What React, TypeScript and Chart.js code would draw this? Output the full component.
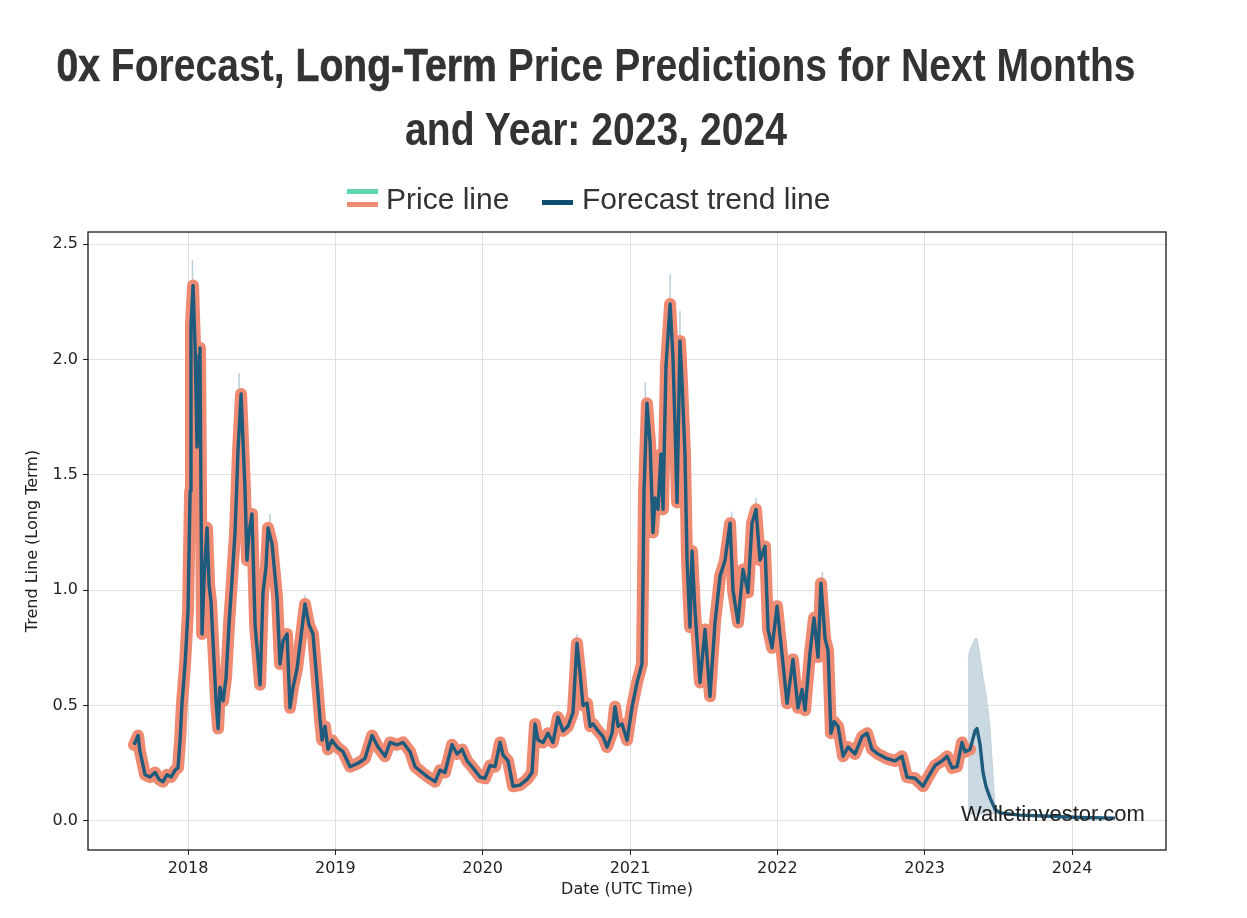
import React, { useEffect, useRef } from "react";
import { Chart, registerables } from "chart.js";

Chart.register(...registerables);

// ---- Axis ticks ----
const xTickYears = [2018, 2019, 2020, 2021, 2022, 2023, 2024];
const yTickValues = [0, 0.5, 1.0, 1.5, 2.0, 2.5];

// ---- Historical price (decimal year, value) ----
const priceDates = [
  2017.633, 2017.661, 2017.674, 2017.688, 2017.708, 2017.742, 2017.776, 2017.803, 2017.83, 2017.857,
  2017.885, 2017.912, 2017.932, 2017.946, 2017.959, 2017.98, 2018.0, 2018.014, 2018.02, 2018.034,
  2018.048, 2018.061, 2018.075, 2018.081, 2018.088, 2018.095, 2018.109, 2018.129, 2018.143, 2018.156,
  2018.176, 2018.19, 2018.204, 2018.217, 2018.238, 2018.258, 2018.278, 2018.299, 2018.319, 2018.339,
  2018.36, 2018.373, 2018.387, 2018.4, 2018.414, 2018.434, 2018.455, 2018.475, 2018.489, 2018.509,
  2018.529, 2018.543, 2018.57, 2018.604, 2018.624, 2018.645, 2018.672, 2018.692, 2018.713, 2018.74,
  2018.767, 2018.794, 2018.821, 2018.848, 2018.869, 2018.882, 2018.896, 2018.91, 2018.93, 2018.95,
  2018.977, 2019.011, 2019.052, 2019.1, 2019.154, 2019.201, 2019.249, 2019.29, 2019.337, 2019.371,
  2019.419, 2019.459, 2019.507, 2019.541, 2019.588, 2019.629, 2019.677, 2019.71, 2019.744, 2019.792,
  2019.826, 2019.86, 2019.894, 2019.934, 2019.982, 2020.016, 2020.05, 2020.084, 2020.118, 2020.138,
  2020.172, 2020.206, 2020.253, 2020.301, 2020.335, 2020.355, 2020.376, 2020.41, 2020.443, 2020.477,
  2020.511, 2020.545, 2020.579, 2020.613, 2020.64, 2020.661, 2020.681, 2020.708, 2020.729, 2020.749,
  2020.783, 2020.817, 2020.844, 2020.878, 2020.898, 2020.919, 2020.946, 2020.98, 2021.014, 2021.048,
  2021.081, 2021.088, 2021.095, 2021.115, 2021.136, 2021.156, 2021.17, 2021.19, 2021.21, 2021.224,
  2021.244, 2021.272, 2021.292, 2021.305, 2021.319, 2021.339, 2021.353, 2021.373, 2021.387, 2021.407,
  2021.421, 2021.441, 2021.475, 2021.509, 2021.543, 2021.577, 2021.611, 2021.645, 2021.679, 2021.699,
  2021.733, 2021.767, 2021.801, 2021.828, 2021.855, 2021.882, 2021.916, 2021.937, 2021.964, 2021.998,
  2022.032, 2022.066, 2022.106, 2022.14, 2022.168, 2022.188, 2022.222, 2022.249, 2022.276, 2022.296,
  2022.324, 2022.344, 2022.364, 2022.385, 2022.412, 2022.446, 2022.48, 2022.527, 2022.575, 2022.609,
  2022.643, 2022.683, 2022.744, 2022.799, 2022.846, 2022.88, 2022.934, 2022.989, 2023.023, 2023.07,
  2023.118, 2023.152, 2023.186, 2023.22, 2023.253, 2023.274, 2023.308,
];
const priceValues = [
  0.33, 0.37, 0.30, 0.26, 0.20, 0.19, 0.21, 0.18, 0.17, 0.20,
  0.19, 0.22, 0.23, 0.35, 0.51, 0.68, 0.91, 1.43, 2.15, 2.32,
  2.05, 1.62, 2.02, 2.05, 1.40, 0.81, 1.05, 1.27, 1.02, 0.95,
  0.70, 0.52, 0.40, 0.58, 0.52, 0.62, 0.85, 1.05, 1.25, 1.60,
  1.85, 1.65, 1.43, 1.13, 1.25, 1.33, 0.85, 0.70, 0.59, 0.99,
  1.10, 1.27, 1.20, 0.97, 0.68, 0.78, 0.81, 0.49, 0.58, 0.66,
  0.80, 0.94, 0.85, 0.81, 0.65, 0.55, 0.44, 0.35, 0.41, 0.31,
  0.35, 0.32, 0.30, 0.235, 0.25, 0.27, 0.37, 0.32, 0.28, 0.34,
  0.33, 0.34, 0.30, 0.235, 0.21, 0.19, 0.17, 0.22, 0.21, 0.33,
  0.29, 0.31, 0.26, 0.23, 0.19, 0.185, 0.24, 0.235, 0.34, 0.285,
  0.26, 0.15, 0.155, 0.18, 0.21, 0.42, 0.35, 0.34, 0.38, 0.34,
  0.45, 0.39, 0.41, 0.47, 0.77, 0.64, 0.50, 0.51, 0.41, 0.42,
  0.39, 0.365, 0.32, 0.38, 0.495, 0.41, 0.42, 0.35, 0.495, 0.60,
  0.68, 1.03, 1.43, 1.81, 1.64, 1.25, 1.40, 1.35, 1.59, 1.35,
  1.97, 2.24, 2.00, 1.72, 1.38, 2.08, 1.90, 1.59, 1.13, 0.84,
  1.17, 0.91, 0.60, 0.83, 0.54, 0.86, 1.06, 1.13, 1.29, 1.00,
  0.86, 1.09, 0.99, 1.29, 1.35, 1.13, 1.19, 0.83, 0.75, 0.93,
  0.72, 0.51, 0.70, 0.49, 0.57, 0.48, 0.73, 0.88, 0.71, 1.03,
  0.79, 0.74, 0.38, 0.43, 0.41, 0.28, 0.32, 0.29, 0.365, 0.38,
  0.31, 0.29, 0.27, 0.26, 0.28, 0.19, 0.185, 0.15, 0.19, 0.24,
  0.26, 0.28, 0.23, 0.235, 0.34, 0.30, 0.31,
];

// ---- Forecast continuation of the trend line ----
const forecastDates = [
  2023.342, 2023.355, 2023.376, 2023.396, 2023.416, 2023.444, 2023.478, 2023.511, 2023.647, 2023.851,
  2024.054, 2024.292,
];
const forecastValues = [
  0.39, 0.40, 0.33, 0.21, 0.15, 0.10, 0.05, 0.035, 0.025, 0.02,
  0.015, 0.012,
];

// ---- Forecast confidence band ----
const bandDates = [2023.294, 2023.308, 2023.342, 2023.355, 2023.376, 2023.396, 2023.416, 2023.43, 2023.444, 2023.478];
const bandUpper = [0.70, 0.74, 0.79, 0.79, 0.71, 0.62, 0.55, 0.48, 0.40, 0.05];
const bandLower = [0.03, 0.03, 0.03, 0.03, 0.03, 0.03, 0.03, 0.03, 0.03, 0.03];

// ---- High wicks (light blue spikes) ----
const wickDates = [2018.03, 2018.346, 2018.556, 2018.794, 2020.64, 2021.104, 2021.272, 2021.339, 2021.69, 2021.855, 2022.306];
const wickLows = [2.30, 1.84, 1.26, 0.93, 0.76, 1.80, 2.22, 2.06, 1.28, 1.33, 1.02];
const wickHighs = [2.43, 1.94, 1.33, 0.98, 0.81, 1.90, 2.37, 2.21, 1.34, 1.40, 1.08];

const X_MIN = 2017.321;
const X_MAX = 2024.638;
const Y_MIN = -0.126;
const Y_MAX = 2.552;

const framePlugin = {
  id: "frame",
  afterDatasetsDraw(chart: any) {
    const { ctx, chartArea } = chart;
    ctx.save();
    ctx.strokeStyle = "#1a1a1a";
    ctx.lineWidth = 1.3;
    ctx.strokeRect(chartArea.left, chartArea.top, chartArea.right - chartArea.left, chartArea.bottom - chartArea.top);
    ctx.restore();
  },
};

export default function App() {
  const canvasRef = useRef<HTMLCanvasElement | null>(null);

  useEffect(() => {
    if (!canvasRef.current) return;
    const pricePts = priceDates.map((d, i) => ({ x: d, y: priceValues[i] }));
    const trendPts = pricePts.concat(forecastDates.map((d, i) => ({ x: d, y: forecastValues[i] })));
    const upperPts = bandDates.map((d, i) => ({ x: d, y: bandUpper[i] }));
    const lowerPts = bandDates.map((d, i) => ({ x: d, y: bandLower[i] }));
    const wickPts: any[] = [];
    wickDates.forEach((d, i) => {
      wickPts.push({ x: d, y: wickLows[i] });
      wickPts.push({ x: d, y: wickHighs[i] });
      wickPts.push({ x: d, y: null });
    });

    const tickFont = { family: "'DejaVu Sans', sans-serif", size: 16 };
    const chart = new Chart(canvasRef.current, {
      type: "line",
      data: {
        datasets: [
          {
            label: "Forecast trend line",
            data: trendPts,
            borderColor: "#1f5b7c",
            borderWidth: 3.4,
            pointRadius: 0,
            tension: 0,
            fill: false,
            borderJoinStyle: "round",
          },
          {
            label: "Price line",
            data: pricePts,
            borderColor: "#ef8b73",
            borderWidth: 12,
            pointRadius: 0,
            tension: 0,
            fill: false,
            borderJoinStyle: "round",
            borderCapStyle: "round",
          },
          {
            label: "wicks",
            data: wickPts,
            borderColor: "#b9cdd9",
            borderWidth: 1.5,
            pointRadius: 0,
            spanGaps: false,
            fill: false,
          },
          {
            label: "upper",
            data: upperPts,
            borderColor: "#bfd0db",
            backgroundColor: "#cbd9e2",
            borderWidth: 1,
            pointRadius: 0,
            tension: 0,
            fill: "+1",
          },
          {
            label: "lower",
            data: lowerPts,
            borderColor: "#bfd0db",
            borderWidth: 1,
            pointRadius: 0,
            tension: 0,
            fill: false,
          },
        ],
      },
      options: {
        responsive: false,
        animation: false,
        devicePixelRatio: 1,
        layout: { padding: { left: 0, top: 232, right: 81, bottom: 0 } },
        plugins: { legend: { display: false }, tooltip: { enabled: false }, title: { display: false } },
        elements: { point: { radius: 0 } },
        scales: {
          x: {
            type: "linear",
            min: X_MIN,
            max: X_MAX,
            afterBuildTicks: (scale: any) => {
              scale.ticks = xTickYears.map((v) => ({ value: v }));
            },
            afterFit: (scale: any) => {
              scale.height = 68;
            },
            ticks: {
              autoSkip: false,
              maxRotation: 0,
              padding: 4,
              color: "#222",
              font: tickFont,
              callback: (v: any) => String(v),
            },
            grid: { color: "#e0e0e0", tickColor: "#222", tickLength: 5, lineWidth: 1 },
            border: { display: false },
            title: {
              display: true,
              text: "Date (UTC Time)",
              color: "#222",
              font: { family: "'DejaVu Sans', sans-serif", size: 16 },
              padding: { top: 0, bottom: 19 },
            },
          },
          y: {
            type: "linear",
            min: Y_MIN,
            max: Y_MAX,
            afterBuildTicks: (scale: any) => {
              scale.ticks = yTickValues.map((v) => ({ value: v }));
            },
            afterFit: (scale: any) => {
              scale.width = 88;
            },
            ticks: {
              padding: 5,
              color: "#222",
              font: tickFont,
              callback: (v: any) => Number(v).toFixed(1),
            },
            grid: { color: "#e0e0e0", tickColor: "#222", tickLength: 5, lineWidth: 1 },
            border: { display: false },
            title: {
              display: true,
              text: "Trend Line (Long Term)",
              color: "#222",
              font: { family: "'DejaVu Sans', sans-serif", size: 16 },
              padding: { top: 23, bottom: 0 },
            },
          },
        },
      },
      plugins: [framePlugin],
    } as any);
    return () => chart.destroy();
  }, []);

  const titleStyle: React.CSSProperties = {
    position: "absolute",
    left: -404,
    width: 2000,
    textAlign: "center",
    fontFamily: "'Liberation Sans', Arial, sans-serif",
    fontWeight: 700,
    fontSize: 46,
    lineHeight: "46px",
    color: "#333",
    transform: "scaleX(0.85)",
    transformOrigin: "50% 0",
    whiteSpace: "nowrap",
  };
  const heavy: React.CSSProperties = { WebkitTextStroke: "0.7px #333" } as any;
  const legendText: React.CSSProperties = {
    position: "absolute",
    fontFamily: "'Liberation Sans', Arial, sans-serif",
    fontSize: 30,
    lineHeight: "30px",
    color: "#333",
    whiteSpace: "nowrap",
  };

  return (
    <div style={{ position: "absolute", left: 0, top: 0, width: 1247, height: 918, background: "#fff", overflow: "hidden" }}>
      <canvas ref={canvasRef} width={1247} height={918} style={{ position: "absolute", left: 0, top: 0, width: 1247, height: 918 }} />
      <div style={{ ...titleStyle, top: 42 }}>
        <span style={heavy}>0x</span> Forecast, <span style={heavy}>Long-Term</span> Price Predictions for Next Months
      </div>
      <div style={{ ...titleStyle, top: 106 }}>and Year: 2023, 2024</div>

      <div style={{ position: "absolute", left: 347, top: 189, width: 31, height: 5, background: "#5fd6b3" }} />
      <div style={{ position: "absolute", left: 347, top: 202, width: 31, height: 5, background: "#ef8b73" }} />
      <div style={{ ...legendText, left: 386, top: 184 }}>Price line</div>
      <div style={{ position: "absolute", left: 542, top: 200, width: 31, height: 4.5, background: "#0e4f70" }} />
      <div style={{ ...legendText, left: 582, top: 184 }}>Forecast trend line</div>

      <div
        style={{
          position: "absolute",
          left: 961,
          top: 803,
          fontFamily: "'Liberation Sans', Arial, sans-serif",
          fontSize: 22,
          lineHeight: "22px",
          color: "#222",
          whiteSpace: "nowrap",
        }}
      >
        Walletinvestor.com
      </div>
    </div>
  );
}
